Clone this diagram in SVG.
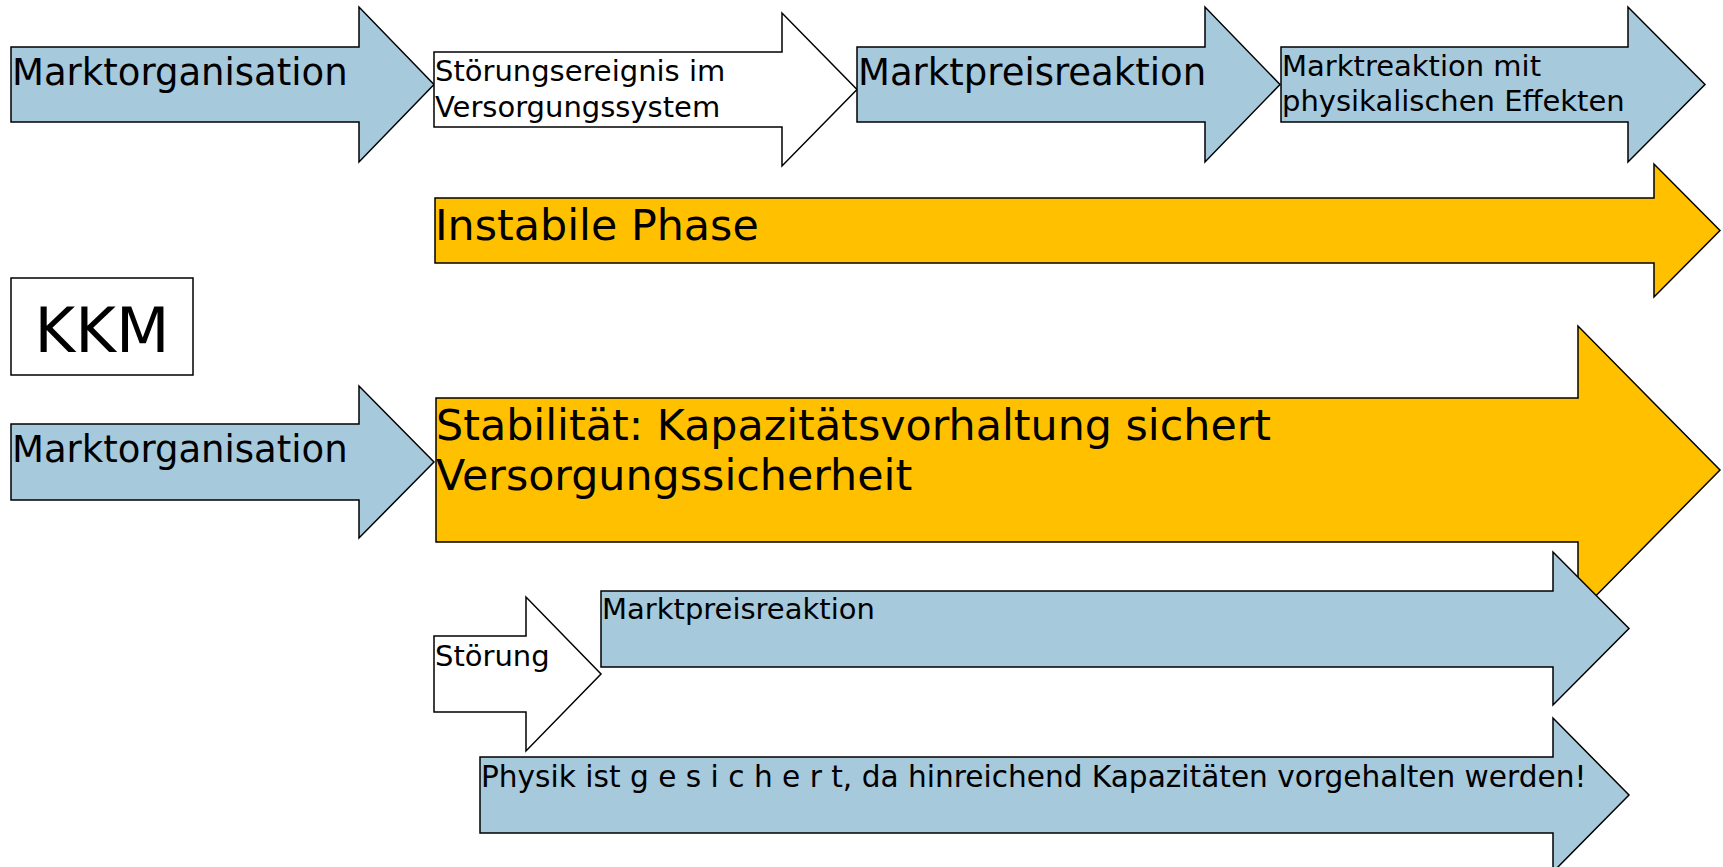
<svg xmlns="http://www.w3.org/2000/svg" width="1723" height="867" viewBox="0 0 1723 867">
<style>
.blue{fill:#A6C9DC;stroke:#000;stroke-width:1.5;stroke-linejoin:miter}
.white{fill:#FFFFFF;stroke:#000;stroke-width:1.5}
.gold{fill:#FFC000;stroke:#000;stroke-width:1.5}
text{font-family:"DejaVu Sans",Verdana,sans-serif;fill:#000}
.l{font-size:37px}
.xl{font-size:42.8px}
.s{font-size:29px}
</style>
<rect width="1723" height="867" fill="#fff"/>
<g id="connectors"></g>
<g id="n1">
<polygon class="blue" points="11,47 359,47 359,7 434,84.5 359,162 359,122 11,122"/>
<text class="l" x="12" y="85">Marktorganisation</text>
</g>
<g id="n2">
<polygon class="white" points="434,52 782,52 782,13 857,89.5 782,166 782,127 434,127"/>
<text class="s" x="435" y="81">Störungsereignis im</text>
<text class="s" x="435" y="117">Versorgungssystem</text>
</g>
<g id="n3">
<polygon class="blue" points="857,47 1205,47 1205,7 1280,84.5 1205,162 1205,122 857,122"/>
<text class="l" x="858" y="85">Marktpreisreaktion</text>
</g>
<g id="n4">
<polygon class="blue" points="1281,47 1628,47 1628,7 1705,84.5 1628,162 1628,122 1281,122"/>
<text class="s" x="1282" y="76">Marktreaktion mit</text>
<text class="s" x="1282" y="111">physikalischen Effekten</text>
</g>
<g id="n5">
<polygon class="gold" points="435,198 1654,198 1654,164 1720,230.5 1654,297 1654,263 435,263"/>
<text class="xl" x="435" y="240">Instabile Phase</text>
</g>
<g id="n6">
<rect class="white" x="11" y="278" width="182" height="97"/>
<text x="102" y="352" text-anchor="middle" style="font-size:62px">KKM</text>
</g>
<g id="n7">
<polygon class="blue" points="11,424 359,424 359,386 434,462 359,538 359,500 11,500"/>
<text class="l" x="12" y="462">Marktorganisation</text>
</g>
<g id="n8">
<polygon class="gold" points="436,398 1578,398 1578,326 1720,470 1578,614 1578,542 436,542"/>
<text class="xl" x="436" y="440">Stabilität: Kapazitätsvorhaltung sichert</text>
<text class="xl" x="436" y="490">Versorgungssicherheit</text>
</g>
<g id="n9">
<polygon class="white" points="434,636 526,636 526,597 601,674 526,751 526,712 434,712"/>
<text class="s" x="435" y="666">Störung</text>
</g>
<g id="n10">
<polygon class="blue" points="601,591 1553,591 1553,552 1629,628.5 1553,705 1553,667 601,667"/>
<text class="s" x="602" y="619">Marktpreisreaktion</text>
</g>
<g id="n11">
<polygon class="blue" points="480,757 1553,757 1553,718 1629,795 1553,872 1553,833 480,833"/>
<text class="s" x="481" y="787" style="font-size:29.6px">Physik ist g e s i c h e r t, da hinreichend Kapazitäten vorgehalten werden!</text>
</g>
</svg>
